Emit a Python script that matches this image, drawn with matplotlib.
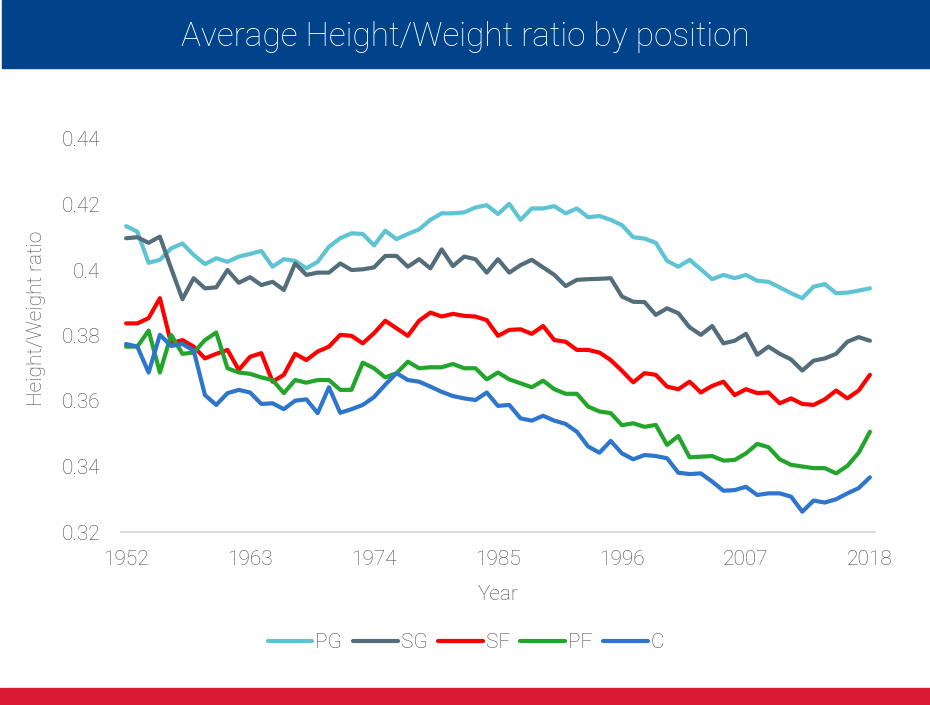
import matplotlib
matplotlib.use("Agg")
import matplotlib.pyplot as plt
from matplotlib.patches import Rectangle
import numpy as np

# data, one value per season 1952..2018
years = np.arange(1952, 2019)

pg = [0.4134, 0.4117, 0.4022, 0.4031, 0.4066, 0.4081, 0.4046, 0.4018, 0.4036, 0.4025,
      0.4041, 0.4049, 0.4058, 0.4010, 0.4033, 0.4028, 0.4005, 0.4025, 0.4071, 0.4097,
      0.4112, 0.4110, 0.4075, 0.4120, 0.4094, 0.4110, 0.4124, 0.4153, 0.4173, 0.4173,
      0.4176, 0.4191, 0.4198, 0.4171, 0.4202, 0.4153, 0.4188, 0.4188, 0.4195, 0.4173,
      0.4188, 0.4161, 0.4165, 0.4153, 0.4137, 0.4100, 0.4096, 0.4083, 0.4028, 0.4010,
      0.4031, 0.4002, 0.3972, 0.3985, 0.3975, 0.3985, 0.3967, 0.3964, 0.3947, 0.3929,
      0.3914, 0.3949, 0.3957, 0.3929, 0.3931, 0.3937, 0.3944]

sg = [0.4097, 0.4100, 0.4083, 0.4102, 0.4005, 0.3911, 0.3975, 0.3944, 0.3947, 0.4000,
      0.3961, 0.3978, 0.3954, 0.3964, 0.3939, 0.4020, 0.3985, 0.3992, 0.3992, 0.4020,
      0.4000, 0.4002, 0.4008, 0.4043, 0.4043, 0.4010, 0.4033, 0.4005, 0.4063, 0.4012,
      0.4041, 0.4033, 0.3992, 0.4033, 0.3992, 0.4015, 0.4031, 0.4008, 0.3985, 0.3951,
      0.3970, 0.3972, 0.3973, 0.3975, 0.3919, 0.3903, 0.3902, 0.3863, 0.3883, 0.3868,
      0.3825, 0.3802, 0.3829, 0.3776, 0.3784, 0.3805, 0.3741, 0.3766, 0.3744, 0.3727,
      0.3693, 0.3723, 0.3730, 0.3744, 0.3781, 0.3795, 0.3784]

sf = [0.3837, 0.3837, 0.3853, 0.3914, 0.3776, 0.3786, 0.3766, 0.3730, 0.3744, 0.3756,
      0.3695, 0.3735, 0.3746, 0.3659, 0.3680, 0.3744, 0.3725, 0.3751, 0.3766, 0.3802,
      0.3799, 0.3776, 0.3807, 0.3845, 0.3822, 0.3799, 0.3845, 0.3870, 0.3858, 0.3866,
      0.3860, 0.3858, 0.3847, 0.3799, 0.3817, 0.3819, 0.3805, 0.3829, 0.3786, 0.3781,
      0.3756, 0.3756, 0.3748, 0.3725, 0.3692, 0.3657, 0.3685, 0.3680, 0.3644, 0.3636,
      0.3659, 0.3626, 0.3646, 0.3659, 0.3618, 0.3636, 0.3624, 0.3626, 0.3593, 0.3608,
      0.3591, 0.3588, 0.3605, 0.3632, 0.3608, 0.3632, 0.3680]

pf = [0.3766, 0.3766, 0.3815, 0.3687, 0.3802, 0.3744, 0.3748, 0.3786, 0.3809, 0.3700,
      0.3687, 0.3683, 0.3672, 0.3664, 0.3624, 0.3664, 0.3656, 0.3664, 0.3664, 0.3634,
      0.3634, 0.3717, 0.3700, 0.3672, 0.3685, 0.3720, 0.3700, 0.3703, 0.3703, 0.3713,
      0.3700, 0.3700, 0.3666, 0.3687, 0.3666, 0.3654, 0.3642, 0.3662, 0.3636, 0.3622,
      0.3622, 0.3583, 0.3568, 0.3563, 0.3526, 0.3532, 0.3521, 0.3527, 0.3466, 0.3493,
      0.3428, 0.3430, 0.3432, 0.3418, 0.3420, 0.3440, 0.3469, 0.3459, 0.3422, 0.3405,
      0.3400, 0.3395, 0.3395, 0.3379, 0.3402, 0.3442, 0.3506]

c = [0.3774, 0.3766, 0.3687, 0.3802, 0.3768, 0.3774, 0.3754, 0.3618, 0.3588, 0.3624,
     0.3634, 0.3626, 0.3591, 0.3593, 0.3575, 0.3601, 0.3605, 0.3563, 0.3642, 0.3564,
     0.3575, 0.3588, 0.3612, 0.3650, 0.3685, 0.3664, 0.3659, 0.3644, 0.3628, 0.3615,
     0.3608, 0.3603, 0.3626, 0.3585, 0.3588, 0.3547, 0.3540, 0.3555, 0.3540, 0.3530,
     0.3506, 0.3461, 0.3442, 0.3478, 0.3440, 0.3422, 0.3435, 0.3432, 0.3425, 0.3381,
     0.3377, 0.3379, 0.3354, 0.3326, 0.3328, 0.3338, 0.3313, 0.3318, 0.3318, 0.3308,
     0.3262, 0.3296, 0.3290, 0.3300, 0.3318, 0.3334, 0.3367]

positions = ["PG", "SG", "SF", "PF", "C"]
colors = ["#5EC4D4", "#536E7A", "#FF0000", "#22A52A", "#2E75CC"]

x_ticks = [1952, 1963, 1974, 1985, 1996, 2007, 2018]
y_ticks = [0.32, 0.34, 0.36, 0.38, 0.40, 0.42, 0.44]
y_tick_labels = ["0.32", "0.34", "0.36", "0.38", "0.4", "0.42", "0.44"]

text_grey = "#4A4A4A"
plt.rcParams["font.family"] = ["Roboto", "DejaVu Sans"]

fig = plt.figure(figsize=(9.3, 7.05), dpi=100)

# header band and footer stripe
fig.patches.append(Rectangle((2 / 930, 1 - 68 / 705), 1, 68 / 705,
                             transform=fig.transFigure, color="#00438B", zorder=0))
fig.patches.append(Rectangle((0, 0), 1, 17 / 705,
                             transform=fig.transFigure, color="#DA1A32", zorder=0))
fig.text(465 / 930, 1 - 37 / 705, "Average Height/Weight ratio by position",
         color="white", fontsize=24, fontweight="light", ha="center", va="center")

ax = fig.add_axes([121 / 930, 1 - 532 / 705, 754 / 930, 393 / 705])

for name, vals, col in zip(positions, [pg, sg, sf, pf, c], colors):
    ax.plot(years, vals, color=col, lw=3.0, label=name,
            solid_capstyle="round", solid_joinstyle="round")

ax.set_xlim(1952 - 0.45, 2018 + 0.45)
ax.set_ylim(0.32, 0.44)
ax.set_xticks(x_ticks)
ax.set_yticks(y_ticks)
ax.set_yticklabels(y_tick_labels)

for side in ["top", "right", "left"]:
    ax.spines[side].set_visible(False)
ax.spines["bottom"].set_color("#D9D9D9")
ax.spines["bottom"].set_linewidth(1.3)
ax.tick_params(length=0, labelsize=15, labelcolor=text_grey)
ax.tick_params(axis="x", pad=13)
ax.tick_params(axis="y", pad=15)
for lab in ax.get_xticklabels() + ax.get_yticklabels():
    lab.set_fontweight("light")

fig.text(498 / 930, 1 - 594 / 705, "Year", color=text_grey, fontsize=15,
         fontweight="light", ha="center", va="center")
fig.text(37 / 930, 1 - 318 / 705, "Height/Weight ratio", color=text_grey, fontsize=15,
         fontweight="light", ha="center", va="center", rotation=90)

leg = fig.legend(loc="center", bbox_to_anchor=(466 / 930, 1 - 643 / 705), ncol=5,
                 frameon=False, fontsize=15, handlelength=2.15, handletextpad=0.15,
                 columnspacing=0.5, borderaxespad=0)
for t in leg.get_texts():
    t.set_color(text_grey)
    t.set_fontweight("light")
for h in leg.get_lines():
    h.set_linewidth(3.0)
    h.set_solid_capstyle("round")

fig.savefig("out.png", dpi=100)
